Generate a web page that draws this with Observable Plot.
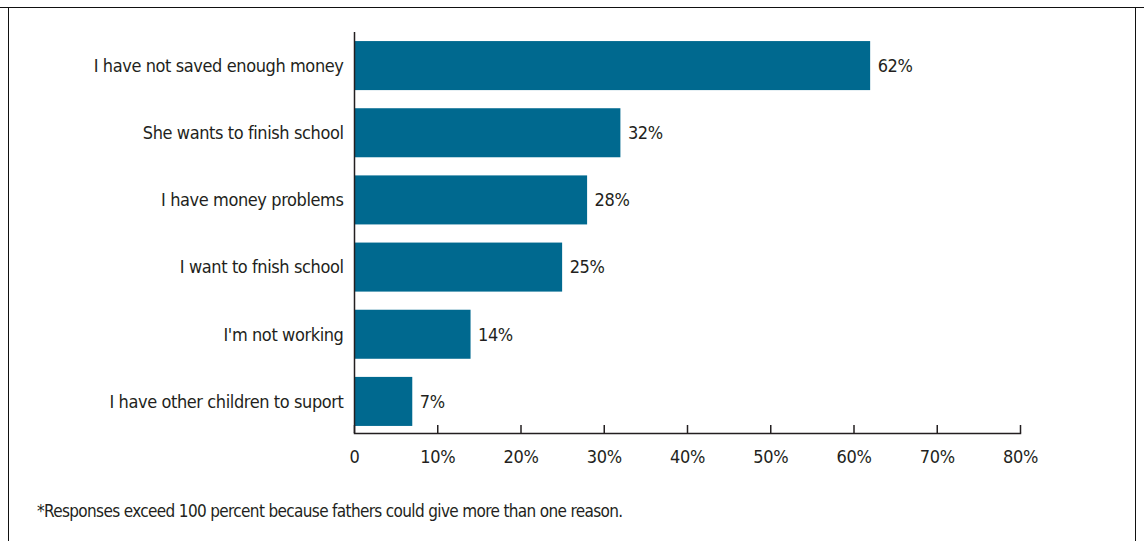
<!DOCTYPE html>
<html><head><meta charset="utf-8">
<script src="https://cdn.jsdelivr.net/npm/d3@7"></script>
<script src="https://cdn.jsdelivr.net/npm/@observablehq/plot@0.6"></script>
<style>
body{margin:0;background:#fff;}
#wrap{position:relative;width:1144px;height:541px;overflow:hidden;font-family:"DejaVu Sans Condensed",sans-serif;color:#231f20;}
#border{position:absolute;left:8px;top:7px;width:1128px;height:560px;border:1.5px solid #111;box-sizing:border-box;}
#topline{position:absolute;left:0;top:7px;width:1144px;height:0;border-top:1.5px solid #111;}
#caption{position:absolute;left:37px;top:501px;font-size:17px;letter-spacing:-0.65px;}
#chart{position:absolute;left:0;top:0;}
#chart svg text{letter-spacing:-0.4px;}
</style></head>
<body><div id="wrap"><div id="border"></div><div id="topline"></div><div id="chart"></div>
<div id="caption">*Responses exceed 100 percent because fathers could give more than one reason.</div></div>
<script>
const reasons = ["I have not saved enough money","She wants to finish school","I have money problems","I want to fnish school","I'm not working","I have other children to suport"];
const percents = [62,32,28,25,14,7];
const xTicks = [0,10,20,30,40,50,60,70,80];
const xTickLabels = ["0","10%","20%","30%","40%","50%","60%","70%","80%"];

const data = reasons.map((r,i)=>({reason:r, pct:percents[i]}));
const chart = Plot.plot({
  width:1144, height:541,
  marginLeft:354, marginRight:124, marginTop:32, marginBottom:106,
  style:{fontFamily:"'DejaVu Sans Condensed',sans-serif", fontSize:"18px", color:"#231f20", background:"transparent"},
  x:{domain:[0,80], label:null},
  y:{domain:reasons, paddingInner:0.27, paddingOuter:0.135, round:false, label:null},
  marks:[
    Plot.barX(data,{x:"pct", y:"reason", fill:"#00698f"}),
    Plot.text(data,{x:"pct", y:"reason", text:d=>d.pct+"%", textAnchor:"start", dx:7, fill:"#231f20", fontSize:18}),
    Plot.ruleX([0],{stroke:"#231f20", strokeWidth:1.5, insetBottom:2}),
    Plot.frame({anchor:"bottom", stroke:"#231f20", strokeWidth:1.5, dy:-2}),
    Plot.axisX(xTicks,{tickSize:-8, tickFormat:()=>"", stroke:"#231f20", strokeWidth:1.5, label:null, dy:-2}),
    Plot.axisX(xTicks,{tickSize:0, tickPadding:15, tickFormat:d=>xTickLabels[xTicks.indexOf(d)], fontSize:18, fill:"#231f20", label:null}),
    Plot.axisY({tickSize:0, tickPadding:11, label:null, fontSize:18, fill:"#231f20"})
  ]
});
document.getElementById("chart").append(chart);
</script></body></html>
